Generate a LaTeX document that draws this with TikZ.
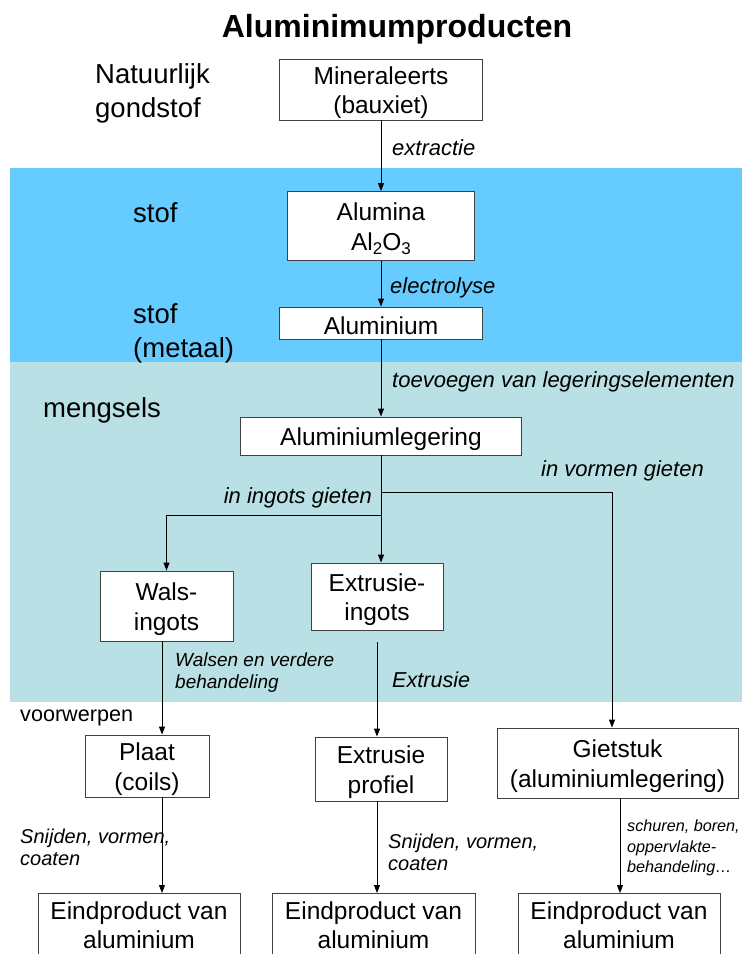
\documentclass[tikz,border=0pt]{standalone}
\usepackage{fontspec}
\setmainfont{Liberation Sans}
\usetikzlibrary{arrows.meta,calc}
\definecolor{bandblue}{HTML}{66CCFF}
\definecolor{bandteal}{HTML}{B9E0E4}
% taller first line, to seat box text slightly lower
\newcommand\firstline{\rule{0pt}{24pt}}
\begin{document}
\begin{tikzpicture}[x=1pt,y=-1pt,
  box/.style={draw=black!75, line width=0.9pt, fill=white, align=center,
              inner sep=0pt, font=\fontsize{24.5}{29.5}\selectfont},
  arr/.style={line width=0.9pt, -{Triangle[length=8pt,width=6pt]}},
  wire/.style={line width=0.9pt},
  lab/.style={font=\itshape\fontsize{22}{26}\selectfont, inner sep=0pt,
              anchor=west, align=left},
  side/.style={font=\fontsize{27.5}{34}\selectfont, inner sep=0pt,
               anchor=west, align=left},
]
\clip (0,0) rectangle (742,954);
\fill[white] (0,0) rectangle (742,954);
% level bands
\fill[bandblue] (10,168) rectangle (742,362);
\fill[bandteal] (10,362) rectangle (742,702);

% title
\node[font=\bfseries\fontsize{32}{38}\selectfont, inner sep=0pt] (title) at (397,29) {Aluminimumproducten};

% level names
\node[side] (nat) at (95,93) {Natuurlijk\\gondstof};
\node[side] (stof1) at (133,213) {stof};
\node[side] (stof2) at (133,333) {stof\\(metaal)};
\node[side] (meng) at (43,410) {mengsels};
\node[side, font=\fontsize{21.6}{26}\selectfont] (voor) at (20,718) {voorwerpen};

% process chain
\node[box, minimum width=203, minimum height=61] (mine) at (381,89.5) {\firstline Mineraleerts\\(bauxiet)};
\node[box, minimum width=187, minimum height=69] (alumina) at (381,226)
  {\firstline Alumina\\Al\raisebox{-0.35ex}{\fontsize{17}{17}\selectfont 2}O\raisebox{-0.35ex}{\fontsize{17}{17}\selectfont 3}};
\node[box, minimum width=203, minimum height=32] (alu) at (381,323) {\firstline Aluminium};
\node[box, minimum width=281, minimum height=38] (leg) at (381,436) {\firstline Aluminiumlegering};

\node[box, minimum width=133, minimum height=70] (wals) at (166.5,606) {\firstline Wals-\\ingots};
\node[box, minimum width=132, minimum height=67] (extri) at (377,596.5) {\firstline Extrusie-\\ingots};

\node[box, minimum width=124, minimum height=62] (plaat) at (147,766) {\firstline Plaat\\(coils)};
\node[box, minimum width=132, minimum height=64] (prof) at (381,769) {\firstline Extrusie\\profiel};
\node[box, minimum width=241, minimum height=70] (giet) at (617.5,763) {\firstline Gietstuk\\(aluminiumlegering)};

\node[box, minimum width=202, minimum height=64, anchor=north] (eind1) at (139,893) {Eindproduct van\\aluminium};
\node[box, minimum width=203, minimum height=64, anchor=north] (eind2) at (373.5,893) {Eindproduct van\\aluminium};
\node[box, minimum width=202, minimum height=64, anchor=north] (eind3) at (619,893) {Eindproduct van\\aluminium};

% connectors
\draw[arr] (mine.south) -- (alumina.north);
\draw[arr] (alumina.south) -- (alu.north);
\draw[arr] (alu.south) -- (leg.north);
\coordinate (brR) at (381,492);
\coordinate (brL) at (381,515);
\draw[arr] (leg.south) -- (leg.south |- extri.north);
\draw[wire, arr] (brR) -| ([xshift=-5.5pt]giet.north);
\draw[wire, arr] (brL) -| (wals.north);
\draw[arr] ([xshift=-4.5pt]wals.south) -- ([xshift=-4.5pt]wals.south |- plaat.north);
\draw[arr] ([yshift=-12pt]extri.south) -- (extri.south |- prof.north);
\draw[arr] ([xshift=15pt]plaat.south) -- ([xshift=15pt]plaat.south |- eind1.north);
\draw[arr] ([xshift=-4pt]prof.south) -- ([xshift=-4pt]prof.south |- eind2.north);
\draw[arr] ([xshift=2.5pt]giet.south) -- ([xshift=2.5pt]giet.south |- eind3.north);

% process labels
\node[lab] (l1) at (392,148) {extractie};
\node[lab] (l2) at (390,288) {electrolyse};
\node[lab] (l3) at (392,382) {toevoegen van legeringselementen};
\node[lab] (l4) at (541,471) {in vormen gieten};
\node[lab, anchor=east] (l5) at (372,498) {in ingots gieten};
\node[lab, font=\itshape\fontsize{19}{22}\selectfont] (l6) at (175,673) {Walsen en verdere\\behandeling};
\node[lab, font=\itshape\fontsize{21.6}{26}\selectfont] (l7) at (392,680) {Extrusie};
\node[lab, font=\itshape\fontsize{20}{22}\selectfont] (l8) at (20,847) {Snijden, vormen,\\coaten};
\node[lab, font=\itshape\fontsize{20}{22}\selectfont] (l9) at (388,852) {Snijden, vormen,\\coaten};
\node[lab, font=\itshape\fontsize{16.2}{20.5}\selectfont] (l10) at (627,848) {schuren, boren,\\oppervlakte-\\behandeling…};
\end{tikzpicture}
\end{document}
